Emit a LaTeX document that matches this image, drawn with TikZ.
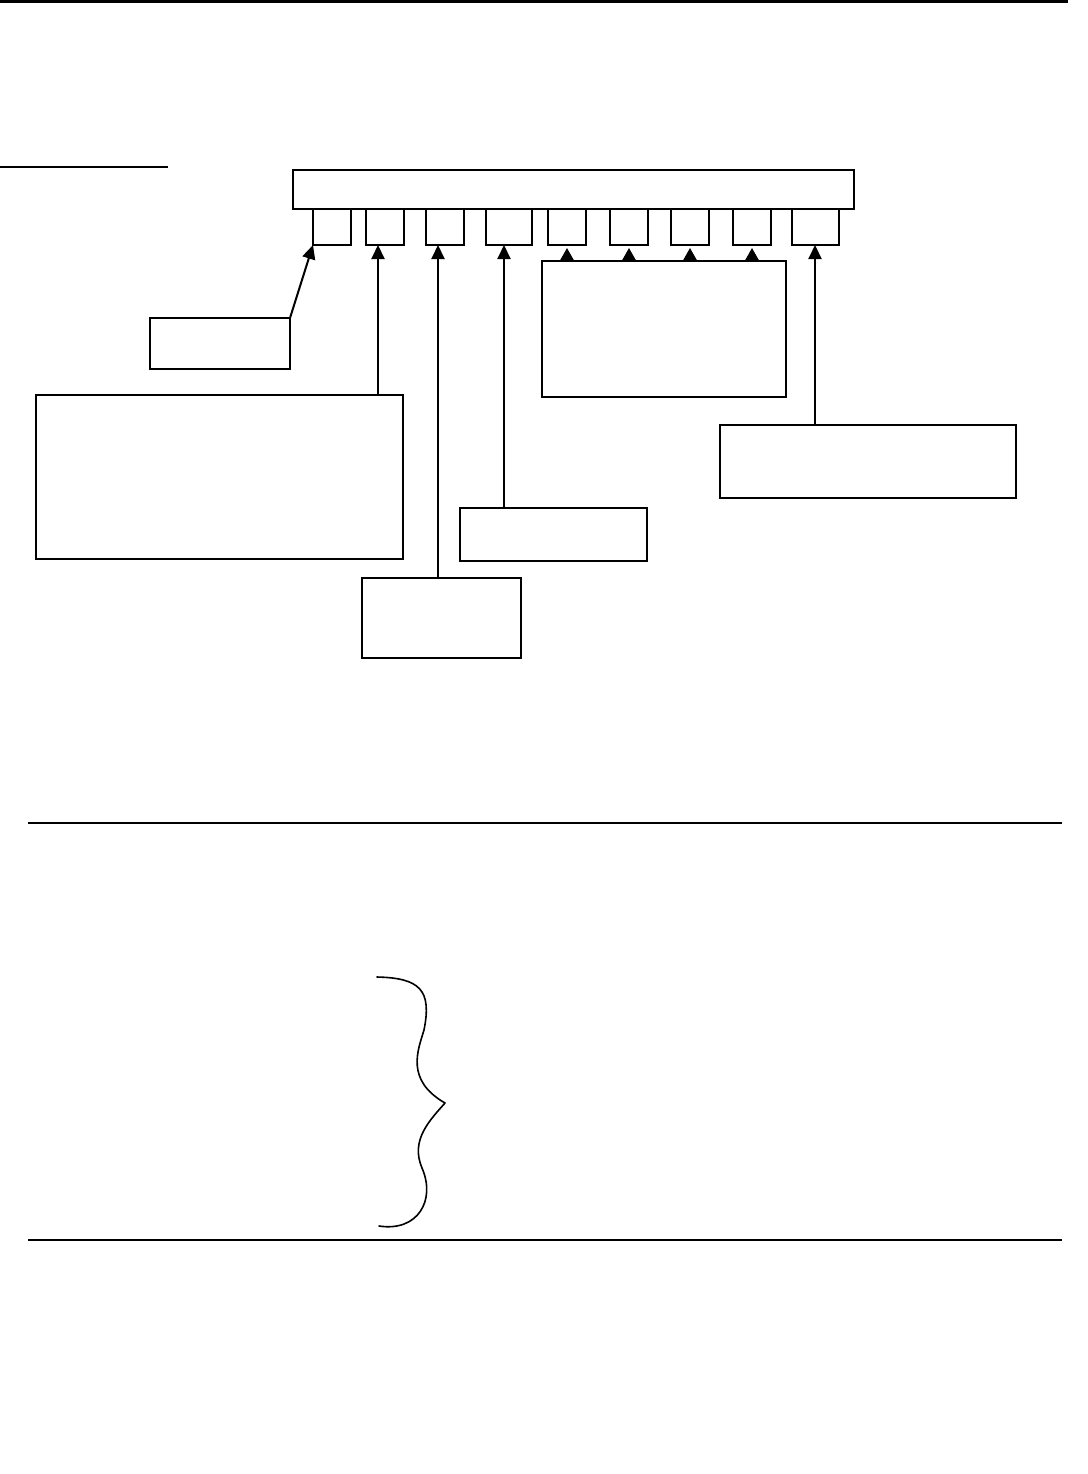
\documentclass[tikz,border=0pt]{standalone}
\usetikzlibrary{arrows.meta}
\begin{document}
\begin{tikzpicture}[x=1pt,y=-1pt,
  box/.style={draw,line width=2pt,inner sep=0pt,outer sep=0pt,anchor=north west},
  arr/.style={line width=2pt,-{Triangle[width=13pt,length=14pt]}},
  sarr/.style={line width=2pt,-{Triangle[width=13pt,length=12pt]}},
  rule/.style={line width=2pt}]
\useasboundingbox (0,0) rectangle (1087,1474);
% top rules
\coordinate (t0) at (0,1.5); \coordinate (t1) at (1068,1.5);
\draw[line width=3pt] (t0) -- (t1);
\coordinate (s0) at (0,167); \coordinate (s1) at (168,167);
\draw[line width=1.5pt] (s0) -- (s1);
% main bar
\node[box,minimum width=561pt,minimum height=39pt] (main) at (293,170) {};
% slots
\node[box,minimum width=38pt,minimum height=36pt] (p1) at (313,209) {};
\node[box,minimum width=38pt,minimum height=36pt] (p2) at (366,209) {};
\node[box,minimum width=38pt,minimum height=36pt] (p3) at (426,209) {};
\node[box,minimum width=46pt,minimum height=36pt] (p4) at (486,209) {};
\node[box,minimum width=38pt,minimum height=36pt] (p5) at (548,209) {};
\node[box,minimum width=38pt,minimum height=36pt] (p6) at (610,209) {};
\node[box,minimum width=38pt,minimum height=36pt] (p7) at (671,209) {};
\node[box,minimum width=38pt,minimum height=36pt] (p8) at (733,209) {};
\node[box,minimum width=47pt,minimum height=36pt] (p9) at (792,209) {};
% label boxes
\node[box,minimum width=140pt,minimum height=51pt] (b1) at (150,318) {};
\node[box,minimum width=367pt,minimum height=164pt] (b2) at (36,395) {};
\node[box,minimum width=159pt,minimum height=80pt] (b3) at (362,578) {};
\node[box,minimum width=187pt,minimum height=53pt] (b4) at (460,508) {};
\node[box,minimum width=244pt,minimum height=136pt] (b5) at (542,261) {};
\node[box,minimum width=296pt,minimum height=73pt] (b6) at (720,425) {};
% arrow targets
\coordinate (a2) at (378,245);
\coordinate (a3) at (438,245);
\coordinate (a4) at (504,245);
\coordinate (a5) at (567,248);
\coordinate (a6) at (629,248);
\coordinate (a7) at (690,248);
\coordinate (a8) at (752,248);
\coordinate (a9) at (815,245);
\draw[arr] (b1.north east) -- (p1.south west);
\draw[arr] (b2.north -| a2) -- (a2);
\draw[arr] (b3.north -| a3) -- (a3);
\draw[arr] (b4.north -| a4) -- (a4);
\draw[sarr] (b5.north -| a5) -- (a5);
\draw[sarr] (b5.north -| a6) -- (a6);
\draw[sarr] (b5.north -| a7) -- (a7);
\draw[sarr] (b5.north -| a8) -- (a8);
\draw[arr] (b6.north -| a9) -- (a9);
% horizontal rules
\coordinate (h1a) at (28,823); \coordinate (h1b) at (1062,823);
\coordinate (h2a) at (28,1240); \coordinate (h2b) at (1062,1240);
\draw[rule] (h1a) -- (h1b);
\draw[rule] (h2a) -- (h2b);
% brace
\coordinate (br0) at (377,977);
\coordinate (br4) at (379,1226);
\draw[line width=1.6pt,line cap=round,line join=round]
  (br0) .. controls (420,978) and (432,990) .. (424,1030)
  .. controls (418,1050) and (405,1080) .. (445,1103)
  .. controls (430,1120) and (410,1140) .. (422,1168)
  .. controls (436,1200) and (418,1232) .. (br4);
\end{tikzpicture}
\end{document}
